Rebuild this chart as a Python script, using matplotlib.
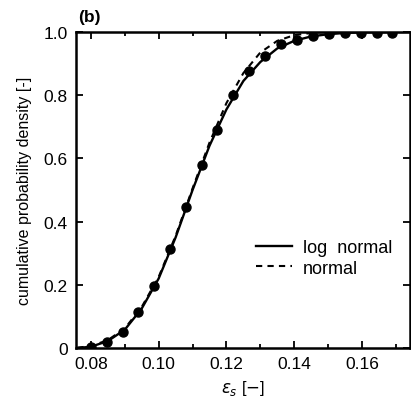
import numpy as np
import matplotlib.pyplot as plt
from matplotlib.ticker import MultipleLocator

plt.rcParams['font.family'] = ['Liberation Sans', 'DejaVu Sans']

# measured points
eps_meas = [0.0800, 0.0848, 0.0895, 0.0940, 0.0987, 0.1033, 0.1080, 0.1127, 0.1173, 0.1220,
            0.1268, 0.1315, 0.1362, 0.1408, 0.1455, 0.1503, 0.1550, 0.1597, 0.1644, 0.1690]
cdf_meas = [0.003, 0.020, 0.052, 0.115, 0.195, 0.312, 0.447, 0.578, 0.690, 0.802,
            0.878, 0.925, 0.962, 0.975, 0.988, 0.994, 0.996, 0.997, 0.998, 0.998]

# fitted curves
eps_fit = [0.076, 0.080, 0.085, 0.090, 0.095, 0.100, 0.105, 0.110, 0.115, 0.120, 0.125,
           0.130, 0.135, 0.140, 0.145, 0.150, 0.155, 0.160, 0.165, 0.170, 0.174]
cdf_lognormal = [0.000, 0.004, 0.022, 0.058, 0.125, 0.220, 0.350, 0.500, 0.640, 0.755, 0.845,
                 0.905, 0.948, 0.972, 0.986, 0.993, 0.997, 0.999, 0.999, 1.000, 1.000]
cdf_normal = [0.001, 0.006, 0.025, 0.062, 0.130, 0.225, 0.355, 0.505, 0.650, 0.775, 0.870,
              0.935, 0.972, 0.990, 0.997, 1.000, 1.000, 1.000, 1.000, 1.000, 1.000]

fig = plt.figure(figsize=(4.11, 4.06), dpi=100)
ax = fig.add_axes([0.185, 0.1404, 0.8126, 0.7783])

ax.plot(eps_fit, cdf_lognormal, color='k', lw=1.7, label='log  normal')
ax.plot(eps_fit, cdf_normal, color='k', lw=1.5, ls=(0, (3, 2.5)), label='normal')
ax.plot(eps_meas, cdf_meas, 'o', color='k', ms=6.5)

ax.set_xlim(0.0756, 0.1742)
ax.set_ylim(0, 1.0)
ax.xaxis.set_minor_locator(MultipleLocator(0.01))
ax.set_xticks([0.08, 0.10, 0.12, 0.14, 0.16])
ax.set_xticklabels(['0.08', '0.10', '0.12', '0.14', '0.16'])
ax.set_yticks([0, 0.2, 0.4, 0.6, 0.8, 1.0])
ax.set_yticklabels(['0', '0.2', '0.4', '0.6', '0.8', '1.0'])
ax.tick_params(which='both', direction='in', top=True, right=True, labelsize=12.5, width=1.3)
ax.tick_params(which='major', length=5, pad=6)
ax.tick_params(which='minor', length=3)
for s in ax.spines.values():
    s.set_linewidth(1.8)

ax.set_xlabel(r'$\varepsilon_s$ [$-$]', fontsize=12, labelpad=5)
ax.set_ylabel('cumulative probability density [-]', fontsize=11.5, labelpad=8)
ax.text(0.005, 1.035, '(b)', transform=ax.transAxes, fontsize=12.5, fontweight='bold')

ax.legend(loc='center left', bbox_to_anchor=(0.49, 0.285), frameon=False, fontsize=13,
          handlelength=2.0, handletextpad=0.6, labelspacing=0.2)

fig.savefig('out.png', dpi=100)
